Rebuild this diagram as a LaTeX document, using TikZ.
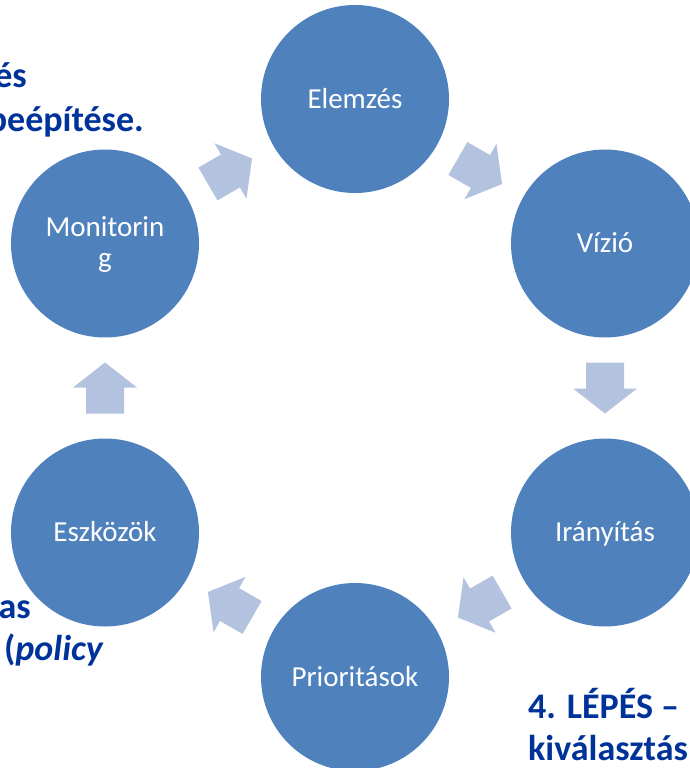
\documentclass[tikz,border=0pt]{standalone}
\usepackage{fontspec}
\setmainfont{Carlito}
\usetikzlibrary{calc}
\definecolor{circfill}{RGB}{79,129,189}
\definecolor{arrfill}{RGB}{179,194,222}
\definecolor{darkblue}{RGB}{0,51,153}
\begin{document}
\begin{tikzpicture}[x=1pt,y=-1pt,
  stage/.style={circle, fill=circfill, minimum size=188pt, inner sep=0pt},
  stagetext/.style={text=white, font=\fontsize{29}{31}\selectfont, anchor=base, inner sep=0pt},
  bigtext/.style={text=darkblue, font=\fontsize{36}{42}\selectfont\bfseries, inner sep=0pt},
  blockarrow/.style={fill=arrfill}]
\useasboundingbox (0,0) rectangle (690,768);
\clip (0,0) rectangle (690,768);
% stages on a hexagon around (355,388), radius 289
\node[stage] (E)   at (355,99)  {};
\node[stage] (V)   at (605,243.5) {};
\node[stage] (I)   at (605,532.5) {};
\node[stage] (P)   at (355,677) {};
\node[stage] (Esz) at (105,532.5) {};
\node[stage] (M)   at (105,243.5) {};
% stage labels
\node[stagetext] (Et)   at ($(E)+(0,9)$)   {Elemzés};
\node[stagetext] (Vt)   at ($(V)+(0,9)$)   {Vízió};
\node[stagetext] (It)   at ($(I)+(0,9)$)   {Irányítás};
\node[stagetext] (Pt)   at ($(P)+(0,9)$)   {Prioritások};
\node[stagetext] (Eszt) at ($(Esz)+(0,9)$) {Eszközök};
\node[stagetext] (Mt1)  at ($(M)+(0,-7)$)  {Monitorin};
\node[stagetext] (Mt2)  at ($(M)+(0,24)$)  {g};
% block arrows between consecutive stages
\foreach \a/\b/\ang in {M/E/30, E/V/-30, V/I/-90, I/P/-150, P/Esz/150, Esz/M/90}{
  \fill[blockarrow, shift={($(\a)!0.5!(\b)$)}, rotate=\ang]
    (-25.5,-19) -- (0.5,-19) -- (0.5,-32) -- (25.5,0) -- (0.5,32) -- (0.5,19) -- (-25.5,19) -- cycle;
}
% partly visible side texts
\node[bigtext, anchor=base east] (t1) at (27,88)  {és};
\node[bigtext, anchor=base east] (t2) at (144,131) {beépítése.};
\node[bigtext, anchor=base east] (t3) at (31,618) {as};
\node[bigtext, anchor=base east] (t4) at (104,660) {(\textit{policy}};
\node[bigtext, anchor=base west] (t5) at (528,718) {4. LÉPÉS –};
\node[bigtext, anchor=base west] (t6) at (528,760) {kiválasztás};
\end{tikzpicture}
\end{document}
